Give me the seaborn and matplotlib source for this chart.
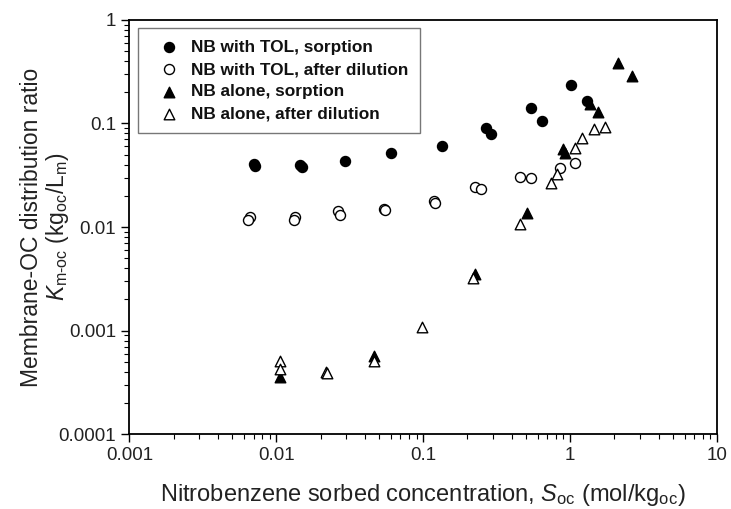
import matplotlib
matplotlib.use("Agg")
import matplotlib.pyplot as plt
import matplotlib.ticker as mticker
import seaborn as sns
import pandas as pd
import numpy as np

# ---- data ----
tol_sorp_x = [0.0070, 0.0072, 0.0145, 0.0150, 0.0293, 0.060, 0.134, 0.267, 0.290, 0.542, 0.640, 1.01, 1.30]
tol_sorp_y = [0.041, 0.039, 0.040, 0.038, 0.0434, 0.052, 0.060, 0.090, 0.079, 0.140, 0.106, 0.237, 0.166]

tol_dil_x = [0.0066, 0.0064, 0.0135, 0.0132, 0.0264, 0.0271, 0.054, 0.055, 0.119, 0.121, 0.226, 0.248, 0.456, 0.538, 0.853, 1.078]
tol_dil_y = [0.0124, 0.0117, 0.0124, 0.0118, 0.0144, 0.0130, 0.0149, 0.0146, 0.0178, 0.0172, 0.0245, 0.0231, 0.0302, 0.0297, 0.0369, 0.0418]

nb_sorp_x = [0.01065, 0.0461, 0.226, 0.506, 0.887, 0.922, 1.37, 1.553, 2.122, 2.652]
nb_sorp_y = [0.000358, 0.000567, 0.00351, 0.01375, 0.0563, 0.0522, 0.154, 0.130, 0.381, 0.290]

nb_dil_x = [0.01065, 0.01065, 0.0219, 0.0222, 0.0461, 0.098, 0.2175, 0.456, 0.736, 0.809, 1.078, 1.195, 1.45, 1.722]
nb_dil_y = [0.000507, 0.000425, 0.000400, 0.000390, 0.000507, 0.00109, 0.00319, 0.0106, 0.0264, 0.0323, 0.0576, 0.0719, 0.0891, 0.0919]

labels = ["NB with TOL, sorption", "NB with TOL, after dilution",
          "NB alone, sorption", "NB alone, after dilution"]

x_ticks = [0.001, 0.01, 0.1, 1, 10]
x_ticklabels = ["0.001", "0.01", "0.1", "1", "10"]
y_ticks = [0.0001, 0.001, 0.01, 0.1, 1]
y_ticklabels = ["0.0001", "0.001", "0.01", "0.1", "1"]

sns.set_style("ticks")
plt.rcParams['font.family'] = ['Liberation Sans', 'DejaVu Sans']
plt.rcParams['mathtext.fontset'] = 'custom'
plt.rcParams['mathtext.rm'] = 'Liberation Sans'
plt.rcParams['mathtext.it'] = 'Liberation Sans:italic'
plt.rcParams['mathtext.bf'] = 'Liberation Sans:bold'

fig = plt.figure(figsize=(7.31, 5.09), dpi=100)
ax = fig.add_axes([0.177, 0.147, 0.804, 0.814])

series = [
    (tol_sorp_x, tol_sorp_y, labels[0], "o", "black", 52),
    (tol_dil_x, tol_dil_y, labels[1], "o", "white", 52),
    (nb_sorp_x, nb_sorp_y, labels[2], "^", "black", 58),
    (nb_dil_x, nb_dil_y, labels[3], "^", "white", 58),
]
for xs, ys, lab, mk, fc, s in series:
    df = pd.DataFrame({"x": xs, "y": ys})
    sns.scatterplot(data=df, x="x", y="y", ax=ax, marker=mk, s=s,
                    color=fc, edgecolor="black", linewidth=1.0, label=lab, zorder=3)

ax.set_xscale("log")
ax.set_yscale("log")
ax.set_xlim(0.001, 10)
ax.set_ylim(0.0001, 1)
ax.set_xticks(x_ticks)
ax.set_xticklabels(x_ticklabels)
ax.set_yticks(y_ticks)
ax.set_yticklabels(y_ticklabels)
ax.xaxis.set_minor_locator(mticker.LogLocator(base=10, subs=np.arange(2, 10)))
ax.yaxis.set_minor_locator(mticker.LogLocator(base=10, subs=np.arange(2, 10)))
ax.xaxis.set_minor_formatter(mticker.NullFormatter())
ax.yaxis.set_minor_formatter(mticker.NullFormatter())
ax.tick_params(which="major", direction="out", length=6, width=1.0, labelsize=13.5, color="black", labelcolor="#222222")
ax.tick_params(which="minor", direction="out", length=3.5, width=0.8, color="black")
ax.tick_params(top=False, right=False)
for sp in ax.spines.values():
    sp.set_visible(True)
    sp.set_linewidth(1.3)
    sp.set_color("black")

ax.set_xlabel(r"Nitrobenzene sorbed concentration, $S_{\mathrm{oc}}$ (mol/kg$_{\mathrm{oc}}$)",
              fontsize=17, color="#222222", labelpad=13)
ax.set_ylabel("Membrane-OC distribution ratio\n" + r"$K_{\mathrm{m\text{-}oc}}$ (kg$_{\mathrm{oc}}$/L$_{\mathrm{m}}$)",
              fontsize=16.5, color="#222222", linespacing=1.05)
ax.yaxis.set_label_coords(-0.099, 0.5)

leg = ax.legend(loc="upper left", frameon=True, fancybox=False, edgecolor="#555555",
                prop={"weight": "bold", "size": 12.4}, borderpad=0.65, labelspacing=0.42,
                handletextpad=0.15, handlelength=2.3, borderaxespad=0.5)
leg.get_frame().set_linewidth(1.0)
for t in leg.get_texts():
    t.set_color("#111111")

fig.savefig("out.png", dpi=100)
